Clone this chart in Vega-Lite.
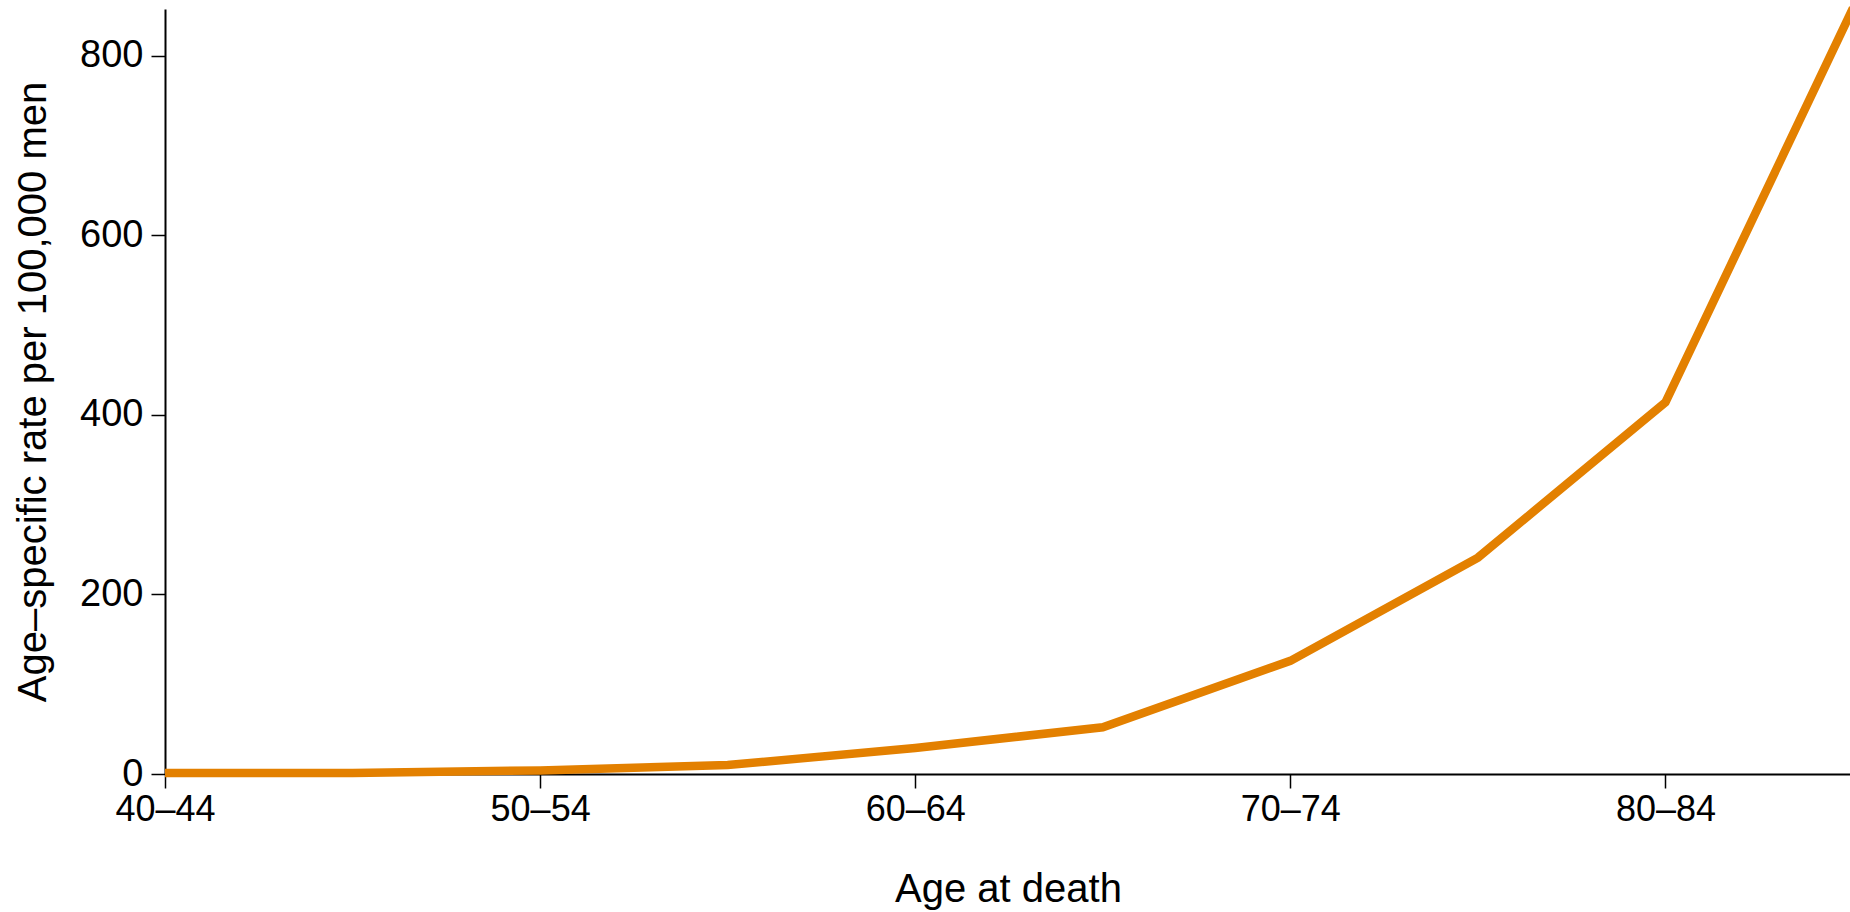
{
  "$schema": "https://vega.github.io/schema/vega-lite/v6.json",
  "autosize": "none",
  "width": 1688,
  "height": 765,
  "padding": {"left": 165, "top": 9, "right": 0, "bottom": 138},
  "background": "white",
  "config": {
    "view": {"stroke": null},
    "font": "Liberation Sans",
    "axis": {"grid": false, "domainColor": "black", "tickColor": "black", "labelColor": "black", "titleColor": "black", "labelFont": "Liberation Sans", "titleFont": "Liberation Sans", "titleFontWeight": "normal", "domainWidth": 2, "tickWidth": 1.5, "tickSize": 14}
  },
  "data": {
    "values": [
      {"age": "40–44", "rate": 1},
      {"age": "45–49", "rate": 1},
      {"age": "50–54", "rate": 4},
      {"age": "55–59", "rate": 10},
      {"age": "60–64", "rate": 29},
      {"age": "65–69", "rate": 52},
      {"age": "70–74", "rate": 126},
      {"age": "75–79", "rate": 241},
      {"age": "80–84", "rate": 414},
      {"age": "85–89", "rate": 853}
    ]
  },
  "mark": {"type": "line", "color": "#E38000", "strokeWidth": 8.5, "clip": false},
  "encoding": {
    "x": {
      "field": "age", "type": "ordinal", "sort": null,
      "scale": {"type": "point", "padding": 0},
      "axis": {"title": "Age at death", "values": ["40–44", "50–54", "60–64", "70–74", "80–84"], "labelAngle": 0, "labelFontSize": 36, "titleFontSize": 40, "labelPadding": 4, "titlePadding": 42, "titleX": 843}
    },
    "y": {
      "field": "rate", "type": "quantitative",
      "scale": {"domain": [0, 852], "nice": false, "zero": true},
      "axis": {"title": "Age–specific rate per 100,000 men", "values": [0, 200, 400, 600, 800], "labelFontSize": 38, "titleFontSize": 40, "labelPadding": 8, "titlePadding": 26}
    }
  }
}
